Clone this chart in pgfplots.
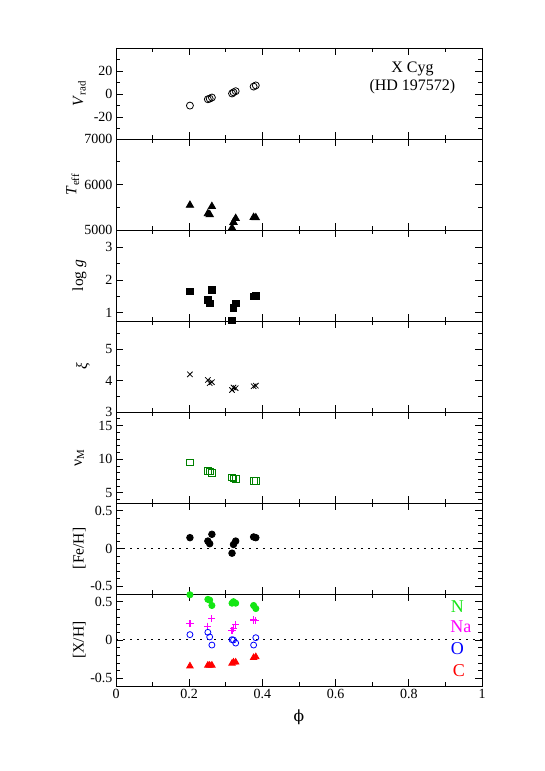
\documentclass[border=0pt]{standalone}
\usepackage{pgfplots}
\pgfplotsset{compat=1.18}
\usepackage{fontspec}
\setmainfont{Liberation Serif}
\newfontfamily\dejaserif{DejaVu Serif}
\definecolor{dgreen}{RGB}{0,128,0}
\definecolor{lgreen}{RGB}{20,230,20}
\definecolor{namag}{RGB}{255,0,255}
\pgfplotsset{panel/.style={
  scale only axis, width=366pt, height=91pt, anchor=north west,
  xmin=0, xmax=1, xtick={0,0.2,0.4,0.6,0.8,1}, minor x tick num=1,
  xticklabels={}, tick align=inside, tick pos=both,
  axis line style={line width=0.8pt},
  major tick length=7pt, minor tick length=4pt,
  every tick/.style={black, line width=0.8pt},
  tick label style={font=\fontsize{14}{16}\selectfont},
  label style={font=\fontsize{15.5}{17}\selectfont},
  ylabel style={at={(axis description cs:-0.1,0.5)}, anchor=center},
  /pgf/number format/assume math mode=true,
  /pgf/number format/1000 sep={},
  scaled y ticks=false, clip=false,
  every axis plot/.append style={only marks, line width=0.8pt},
}}
\begin{document}
\begin{tikzpicture}[x=1pt,y=1pt]
\path[use as bounding box] (0,0) rectangle (545,771);
% Panel 1
\begin{axis}[panel, at={(116pt,723pt)}, ymin=-39, ymax=40, ytick={-20,0,20}, minor ytick={-30,-10,10,30},
  ylabel={\textit{V}\textsubscript{rad}}]
\addplot[black, mark=o, mark size=3.5pt] coordinates {(0.202,-10) (0.251,-4.5) (0.256,-4) (0.262,-3) (0.317,0.5) (0.321,1.5) (0.327,2.5) (0.376,6.5) (0.382,7.5)};
\node[align=center, font=\fontsize{16}{18}\selectfont] at (axis description cs:0.81,0.67) {X Cyg\\(HD 197572)};
\end{axis}
% Panel 2
\begin{axis}[panel, at={(116pt,632pt)}, ymin=5000, ymax=7000, ytick={5000,6000,7000}, minor ytick={5500,6500},
  ylabel style={at={(axis description cs:-0.118,0.5)}},
  ylabel={\textit{T}\textsubscript{eff}}]
\addplot[black, mark=triangle*, mark size=4.2pt] coordinates {(0.202,5545) (0.251,5360) (0.256,5340) (0.262,5517) (0.317,5045) (0.321,5170) (0.327,5255) (0.376,5277) (0.382,5270)};
\end{axis}
% Panel 3
\begin{axis}[panel, at={(116pt,541pt)}, ymin=0.75, ymax=3.52, ytick={1,2,3}, minor ytick={1.5,2.5,3.5},
  ylabel={log \textit{g}}]
\addplot[black, mark=square*, mark size=3.3pt] coordinates {(0.202,1.65) (0.251,1.40) (0.256,1.28) (0.262,1.70) (0.317,0.77) (0.321,1.15) (0.327,1.28) (0.376,1.50) (0.382,1.52)};
\end{axis}
% Panel 4
\begin{axis}[panel, at={(116pt,450pt)}, ymin=3, ymax=5.9, ytick={3,4,5}, minor ytick={3.5,4.5,5.5},
  ylabel style={at={(axis description cs:-0.09,0.5)}},
  ylabel={\textit{ξ}}]
\addplot[black, mark=x, mark size=3.8pt] coordinates {(0.202,4.2) (0.251,4.02) (0.256,3.92) (0.262,3.95) (0.317,3.70) (0.321,3.78) (0.327,3.76) (0.376,3.82) (0.382,3.84)};
\end{axis}
% Panel 5
\begin{axis}[panel, at={(116pt,359pt)}, ymin=3.5, ymax=17, ytick={5,10,15}, minor ytick={4,6,7,8,9,11,12,13,14,16,17},
  ylabel={ν\textsubscript{M}}]
\addplot[dgreen, mark=square, mark size=3.3pt] coordinates {(0.202,9.5) (0.251,8.3) (0.256,8.2) (0.262,7.95) (0.317,7.3) (0.321,7.15) (0.327,7.05) (0.376,6.8) (0.382,6.8)};
\end{axis}
% Panel 6
\begin{axis}[panel, at={(116pt,268pt)}, ymin=-0.6, ymax=0.6, ytick={-0.5,0,0.5}, minor ytick={-0.4,-0.3,-0.2,-0.1,0.1,0.2,0.3,0.4},
  ylabel={[Fe/H]}]
\addplot[black, sharp plot, no marks, line width=1pt, dash pattern=on 1.5pt off 5.5pt] coordinates {(0,0) (1,0)};
\addplot[black, mark=*, mark size=3.3pt] coordinates {(0.202,0.143) (0.251,0.098) (0.256,0.063) (0.262,0.187) (0.317,-0.062) (0.321,0.053) (0.327,0.098) (0.376,0.152) (0.382,0.143)};
\end{axis}
% Panel 7
\begin{axis}[panel, at={(116pt,177pt)}, height=92pt, ymin=-0.6, ymax=0.6, ytick={-0.5,0,0.5}, minor ytick={-0.4,-0.3,-0.2,-0.1,0.1,0.2,0.3,0.4},
  xticklabels={0,0.2,0.4,0.6,0.8,1},
  xlabel={{\dejaserif ϕ}}, xlabel style={yshift=-4pt},
  ylabel={[X/H]}]
\addplot[black, sharp plot, no marks, line width=1pt, dash pattern=on 1.5pt off 5.5pt] coordinates {(0,0) (1,0)};
\addplot[lgreen, mark=*, mark size=3.1pt] coordinates {(0.202,0.59) (0.251,0.53) (0.256,0.52) (0.262,0.45) (0.317,0.48) (0.321,0.50) (0.327,0.48) (0.376,0.45) (0.382,0.41)};
\addplot[color=namag, mark=+, mark size=3.6pt, line width=1.2pt, mark options={color=namag, solid, line width=1.2pt}] coordinates {(0.202,0.21) (0.251,0.18) (0.262,0.28) (0.317,0.12) (0.321,0.155) (0.327,0.20) (0.376,0.26) (0.382,0.25)};
\addplot[blue, mark=o, mark size=3pt] coordinates {(0.202,0.07) (0.251,0.10) (0.256,0.04) (0.262,-0.066) (0.317,0.004) (0.321,0.0) (0.327,-0.04) (0.376,-0.066) (0.382,0.03)};
\addplot[red, mark=triangle*, mark size=3.7pt] coordinates {(0.202,-0.34) (0.251,-0.33) (0.256,-0.33) (0.262,-0.33) (0.317,-0.305) (0.321,-0.29) (0.327,-0.29) (0.376,-0.23) (0.382,-0.22)};
\node[font=\fontsize{18}{20}\selectfont, text=lgreen] at (axis description cs:0.933,0.86) {N};
\node[font=\fontsize{18}{20}\selectfont, text=namag] at (axis description cs:0.942,0.64) {Na};
\node[font=\fontsize{18}{20}\selectfont, text=blue] at (axis description cs:0.933,0.41) {O};
\node[font=\fontsize{18}{20}\selectfont, text=red] at (axis description cs:0.937,0.165) {C};
\end{axis}
\end{tikzpicture}
\end{document}
